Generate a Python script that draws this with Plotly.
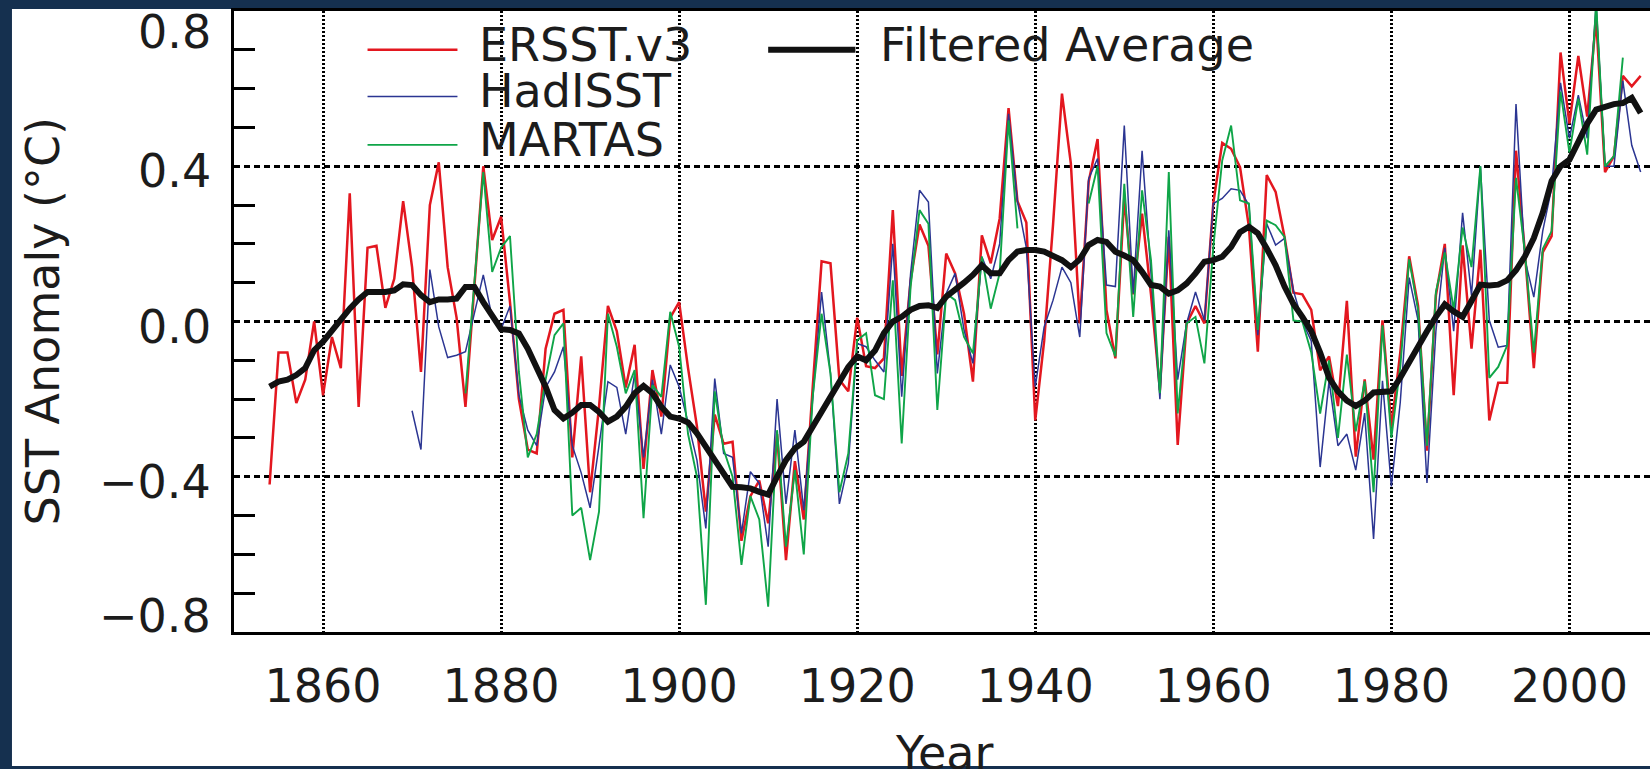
import plotly.graph_objects as go

# ---- data -------------------------------------------------------------
years_ersst = list(range(1854, 2009))
ersst = [
    -0.42, -0.08, -0.08, -0.21, -0.15, 0.00, -0.19, -0.04, -0.12, 0.33,
    -0.22, 0.19, 0.195, 0.035, 0.11, 0.31, 0.14, -0.13, 0.30, 0.41,
    0.14, 0.01, -0.22, 0.10, 0.40, 0.21, 0.27, 0.05, -0.20, -0.33,
    -0.34, -0.07, 0.02, 0.03, -0.35, -0.09, -0.44, -0.22, 0.04, -0.025,
    -0.17, -0.06, -0.38, -0.125, -0.245, 0.01, 0.05, -0.12, -0.27, -0.49,
    -0.24, -0.315, -0.31, -0.565, -0.45, -0.41, -0.52, -0.29, -0.615, -0.36,
    -0.51, -0.17, 0.155, 0.15, -0.15, -0.18, 0.01, -0.115, -0.12, -0.095,
    0.287, -0.14, 0.106, 0.25, 0.195, -0.085, 0.175, 0.124, 0.02, -0.155,
    0.222, 0.15, 0.265, 0.55, 0.31, 0.255, -0.255, -0.05, 0.25, 0.587,
    0.407, -0.005, 0.36, 0.47, 0.03, -0.095, 0.32, 0.07, 0.278, 0.07,
    -0.177, 0.218, -0.318, -0.005, 0.04, -0.005, 0.305, 0.46, 0.445, 0.398,
    0.244, -0.078, 0.377, 0.334, 0.218, 0.074, 0.07, 0.03, -0.126, -0.09,
    -0.218, 0.053, -0.348, -0.149, -0.356, 0.003, -0.273, -0.08, 0.168, 0.04,
    -0.333, 0.067, 0.20, -0.19, 0.196, -0.07, 0.185, -0.255, -0.158, -0.158,
    0.44, 0.178, -0.12, 0.178, 0.22, 0.693, 0.51, 0.684, 0.528, 0.78,
    0.385, 0.426, 0.633, 0.606, 0.633,
]

years_hadisst = list(range(1870, 2009))
hadisst = [
    -0.23, -0.33, 0.134, -0.014, -0.093, -0.087, -0.078, 0.02, 0.12, 0.01,
    -0.02, 0.04, -0.19, -0.28, -0.32, -0.17, -0.13, -0.065, -0.32, -0.39,
    -0.48, -0.32, -0.155, -0.17, -0.29, -0.134, -0.35, -0.15, -0.29, -0.112,
    -0.168, -0.26, -0.357, -0.533, -0.147, -0.34, -0.35, -0.546, -0.387, -0.417,
    -0.58, -0.20, -0.47, -0.28, -0.486, -0.20, 0.076, -0.134, -0.47, -0.366,
    -0.057, -0.065, -0.10, -0.13, 0.20, -0.194, 0.124, 0.338, 0.308, -0.134,
    0.072, 0.124, -0.022, -0.108, 0.167, 0.11, 0.20, 0.535, 0.31, 0.19,
    -0.168, -0.014, 0.055, 0.14, 0.10, -0.04, 0.368, 0.42, 0.094, 0.09,
    0.505, 0.072, 0.44, 0.124, -0.20, 0.235, -0.15, -0.005, 0.076, 0.003,
    0.304, 0.317, 0.342, 0.338, 0.30, -0.035, 0.252, 0.197, 0.214, 0.08,
    0.0, -0.05, -0.375, -0.153, -0.32, -0.29, -0.383, -0.236, -0.56, -0.153,
    -0.425, -0.208, 0.113, 0.003, -0.416, -0.025, 0.19, -0.025, 0.28, 0.067,
    0.40, 0.003, -0.066, -0.062, 0.56, 0.16, 0.063, 0.233, 0.344, 0.615,
    0.472, 0.583, 0.472, 0.82, 0.40, 0.40, 0.62, 0.454, 0.385,
]

# MARTAS has no values for 1939-1945
years_martas = list(range(1876, 2007))
martas = [
    -0.185, 0.10, 0.385, 0.128, 0.19, 0.22, -0.13, -0.35, -0.29, -0.15,
    -0.035, -0.005, -0.50, -0.48, -0.615, -0.49, 0.02, -0.065, -0.185, -0.125,
    -0.507, -0.164, -0.194, 0.025, -0.065, -0.29, -0.40, -0.73, -0.18, -0.33,
    -0.40, -0.627, -0.45, -0.51, -0.735, -0.28, -0.58, -0.383, -0.60, -0.194,
    0.02, -0.134, -0.44, -0.34, -0.048, -0.03, -0.19, -0.20, 0.106, -0.314,
    0.09, 0.287, 0.252, -0.228, 0.072, 0.055, -0.04, -0.082, 0.167, 0.033,
    0.124, 0.518, 0.24, None, None, None, None, None, None, None,
    0.304, 0.40, -0.03, -0.09, 0.355, 0.012, 0.338, 0.158, -0.185, 0.385,
    -0.237, -0.005, 0.012, -0.108, 0.192, 0.415, 0.505, 0.312, 0.304, -0.022,
    0.26, 0.248, 0.218, 0.003, 0.0, -0.08, -0.237, -0.10, -0.30, -0.085,
    -0.283, -0.154, -0.44, -0.01, -0.30, -0.117, 0.16, 0.03, -0.32, 0.076,
    0.178, 0.03, 0.242, 0.14, 0.40, -0.145, -0.117, -0.062, 0.37, 0.178,
    -0.08, 0.187, 0.233, 0.592, 0.435, 0.574, 0.43, 0.82, 0.40, 0.426,
    0.68,
]

years_filtered = list(range(1854, 2009))
filtered = [
    -0.168, -0.155, -0.15, -0.138, -0.12, -0.074, -0.052, -0.022, 0.008, 0.033,
    0.057, 0.076, 0.076, 0.076, 0.08, 0.096, 0.094, 0.068, 0.05, 0.057,
    0.057, 0.059, 0.089, 0.089, 0.05, 0.012, -0.02, -0.022, -0.031, -0.07,
    -0.117, -0.168, -0.228, -0.25, -0.235, -0.215, -0.215, -0.233, -0.258, -0.245,
    -0.22, -0.185, -0.166, -0.185, -0.22, -0.245, -0.25, -0.26, -0.288, -0.323,
    -0.361, -0.396, -0.426, -0.427, -0.43, -0.439, -0.446, -0.40, -0.357, -0.327,
    -0.31, -0.271, -0.233, -0.194, -0.151, -0.117, -0.09, -0.10, -0.075, -0.03,
    0.0, 0.012, 0.03, 0.04, 0.042, 0.035, 0.064, 0.08, 0.10, 0.12,
    0.145, 0.124, 0.124, 0.158, 0.18, 0.184, 0.184, 0.18, 0.17, 0.158,
    0.14, 0.16, 0.197, 0.21, 0.205, 0.18, 0.17, 0.158, 0.128, 0.094,
    0.09, 0.072, 0.08, 0.098, 0.124, 0.154, 0.158, 0.167, 0.192, 0.23,
    0.244, 0.227, 0.188, 0.145, 0.09, 0.045, 0.012, -0.025, -0.08, -0.145,
    -0.18, -0.204, -0.218, -0.204, -0.183, -0.18, -0.18, -0.145, -0.103, -0.062,
    -0.025, 0.012, 0.044, 0.026, 0.012, 0.053, 0.095, 0.093, 0.095, 0.106,
    0.132, 0.168, 0.215, 0.28, 0.362, 0.40, 0.417, 0.463, 0.51, 0.546,
    0.555, 0.56, 0.563, 0.576, 0.537,
]

x_ticks = [1860, 1880, 1900, 1920, 1940, 1960, 1980, 2000]
y_major = [-0.8, -0.4, 0.0, 0.4, 0.8]
y_major_labels = ["\u22120.8", "\u22120.4", "0.0", "0.4", "0.8"]
y_minor = [-0.7, -0.6, -0.5, -0.3, -0.2, -0.1, 0.1, 0.2, 0.3, 0.5, 0.6, 0.7]

series_names = ["ERSST.v3", "HadISST", "MARTAS", "Filtered Average"]
series_colors = ["#e3171f", "#2b3592", "#0fa548", "#111111"]
series_widths = [2.5, 1.5, 1.9, 6]

# ---- figure -----------------------------------------------------------
FONT = "'DejaVu Sans', Verdana, sans-serif"
FS = 46
TXT = "#1c1c1c"
NAVY = "#15304f"

fig = go.Figure()
for xs, ys, name, col, w in zip(
    [years_ersst, years_hadisst, years_martas, years_filtered],
    [ersst, hadisst, martas, filtered],
    series_names, series_colors, series_widths,
):
    fig.add_trace(go.Scatter(
        x=xs, y=ys, mode="lines", name=name,
        line=dict(color=col, width=w), connectgaps=False,
        showlegend=False, cliponaxis=True,
    ))

# hand-drawn legend, two columns
legend_rows = [(0.70, 0), (0.58, 1), (0.455, 2)]
for yv, i in legend_rows:
    fig.add_shape(type="line", xref="x", yref="y", x0=1865, x1=1875.1,
                  y0=yv, y1=yv, line=dict(color=series_colors[i], width=series_widths[i]))
    fig.add_annotation(xref="x", yref="y", x=1877.3, y=yv, text=series_names[i],
                       showarrow=False, xanchor="left", yanchor="middle", yshift=5,
                       font=dict(family=FONT, size=FS, color=TXT))
fig.add_shape(type="line", xref="x", yref="y", x0=1910, x1=1919.8, y0=0.70, y1=0.70,
              line=dict(color=series_colors[3], width=series_widths[3]))
fig.add_annotation(xref="x", yref="y", x=1922.3, y=0.70, text=series_names[3],
                   showarrow=False, xanchor="left", yanchor="middle", yshift=5,
                   font=dict(family=FONT, size=FS, color=TXT))

# y tick labels (end labels pulled inside the frame)
label_shift = {-0.8: 16, -0.4: -5, 0.0: -5, 0.4: -5, 0.8: -21}
for v, t in zip(y_major, y_major_labels):
    fig.add_annotation(xref="paper", yref="y", x=0, y=v, text=t, showarrow=False,
                       xanchor="right", yanchor="middle", xshift=-21, yshift=label_shift[v],
                       font=dict(family=FONT, size=FS, color=TXT))

# axis titles
fig.add_annotation(xref="paper", yref="paper", x=0, y=0.5, xshift=-192,
                   text="SST Anomaly (\u00b0C)", textangle=-90, showarrow=False,
                   xanchor="center", yanchor="middle",
                   font=dict(family=FONT, size=FS, color=TXT))
fig.add_annotation(xref="x", yref="paper", x=1929.7, y=0, yshift=-92,
                   text="Year", showarrow=False, xanchor="center", yanchor="top",
                   font=dict(family=FONT, size=FS, color=TXT))

# white page inside the dark frame
fig.add_shape(type="rect", xref="paper", yref="paper", layer="below",
              x0=-0.1568, x1=1.02, y0=-0.2158, y1=1.0032,
              fillcolor="white", line=dict(width=0))

fig.update_layout(
    width=1650, height=769,
    margin=dict(l=234, r=0, t=11, b=137),
    paper_bgcolor=NAVY, plot_bgcolor="white",
    showlegend=False,
    font=dict(family=FONT, size=FS, color=TXT),
    xaxis=dict(
        range=[1850, 2009.05], tickvals=x_ticks, ticks="",
        showline=True, linecolor="black", linewidth=2.5, mirror=True,
        showgrid=True, gridcolor="black", gridwidth=2.5, griddash="2px,2px",
        zeroline=False, ticklabelstandoff=12,
        tickfont=dict(family=FONT, size=FS, color=TXT),
    ),
    yaxis=dict(
        range=[-0.8, 0.8], tickvals=y_major, showticklabels=False, ticks="",
        showline=True, linecolor="black", linewidth=2.5, mirror=False,
        showgrid=True, gridcolor="black", gridwidth=2.5, griddash="6px,4px",
        zeroline=False,
        minor=dict(tickvals=y_minor, ticks="inside", ticklen=21, tickwidth=3,
                   tickcolor="black", showgrid=False),
    ),
    yaxis2=dict(
        range=[-0.8, 0.8], overlaying="y", side="right", anchor="x",
        tickvals=y_minor, ticks="inside", ticklen=13, tickwidth=3, tickcolor="black",
        showticklabels=False, showgrid=False, showline=False, zeroline=False,
    ),
)

fig.write_html("out.html")
